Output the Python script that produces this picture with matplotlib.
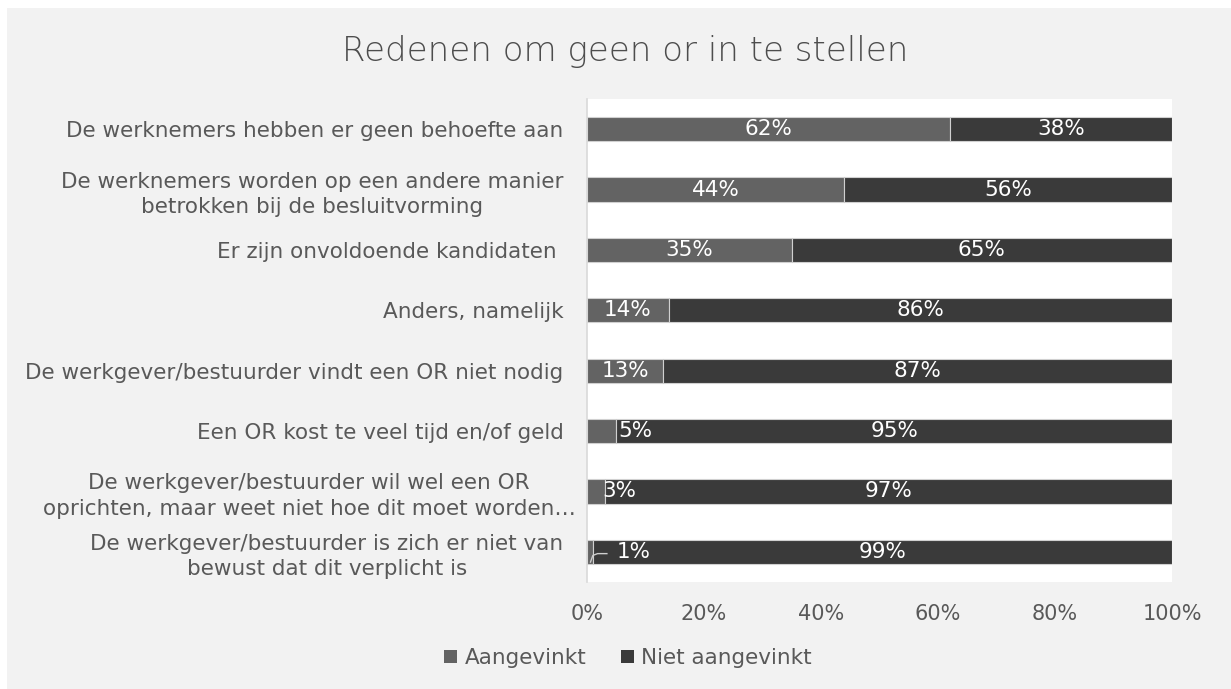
import numpy as np
import matplotlib
matplotlib.use("Agg")
import matplotlib.pyplot as plt
import matplotlib.transforms as mtransforms
from matplotlib.patches import Rectangle, Patch

# data, top to bottom as in the chart
categories = [
    "De werknemers hebben er geen behoefte aan",
    "De werknemers worden op een andere manier\nbetrokken bij de besluitvorming",
    "Er zijn onvoldoende kandidaten ",
    "Anders, namelijk",
    "De werkgever/bestuurder vindt een OR niet nodig",
    "Een OR kost te veel tijd en/of geld",
    "De werkgever/bestuurder wil wel een OR\noprichten, maar weet niet hoe dit moet worden\u2026",
    "De werkgever/bestuurder is zich er niet van\nbewust dat dit verplicht is",
]
aangevinkt = [62, 44, 35, 14, 13, 5, 3, 1]
niet_aangevinkt = [38, 56, 65, 86, 87, 95, 97, 99]
series_names = ["Aangevinkt", "Niet aangevinkt"]
xticks = [0, 20, 40, 60, 80, 100]

c_aan = "#636363"
c_niet = "#3a3a3a"
txt = "#595959"
bg = "#f2f2f2"

plt.rcParams["font.family"] = ["DejaVu Sans"]

fig = plt.figure(figsize=(12.31, 6.89), dpi=100, facecolor="white")
# grey chart area with a thin white margin on the left/top
fig.patches.append(Rectangle((7 / 1231, 0), 1, 1 - 8 / 689, transform=fig.transFigure,
                             facecolor=bg, edgecolor="none", zorder=-10))

ax = fig.add_axes([587 / 1231, 1 - 582 / 689, (1172 - 587) / 1231, (582 - 99) / 689])
ax.set_facecolor("white")

y = np.arange(len(categories))
h = 0.4
ax.barh(y, aangevinkt, height=h, color=c_aan, edgecolor="#d0d0d0", linewidth=0.8)
ax.barh(y, niet_aangevinkt, left=aangevinkt, height=h, color=c_niet,
        edgecolor="#d0d0d0", linewidth=0.8)

ax.set_ylim(len(categories) - 0.5, -0.5)
ax.set_xlim(0, 100)

# data labels; tiny segments get their label nudged to the right like in Excel
nudge = {5: 8.2, 3: 5.5, 1: 7.9}
for i, (a, n) in enumerate(zip(aangevinkt, niet_aangevinkt)):
    xa = nudge.get(a, a / 2)
    ax.text(xa, i, f"{a}%", color="white", ha="center", va="center", fontsize=15.5)
    ax.text(a + n / 2, i, f"{n}%", color="white", ha="center", va="center", fontsize=15.5)
    if a == 1:
        # leader line from the sliver to its label
        ax.plot([0.6, 1.0, 1.8, 3.4], [i + 0.17, i + 0.06, i + 0.03, i + 0.03],
                color="#cfcfcf", lw=1.0)

ax.set_yticks(y)
ax.set_yticklabels(categories, fontsize=15.5, color=txt, multialignment="center",
                   linespacing=1.35)
ax.tick_params(axis="y", length=0, pad=17)
# the long truncated label sticks out a bit further to the right
lbl = ax.get_yticklabels()[6]
lbl.set_transform(lbl.get_transform() + mtransforms.ScaledTranslation(0.12, 0, fig.dpi_scale_trans))

ax.set_xticks(xticks)
ax.set_xticklabels([f"{t}%" for t in xticks], fontsize=15, color=txt)
ax.tick_params(axis="x", length=0, pad=16)

for s in ["top", "right", "bottom"]:
    ax.spines[s].set_visible(False)
ax.spines["left"].set_color("#d9d9d9")
ax.spines["left"].set_linewidth(1.2)

fig.text(625 / 1231, 1 - 52 / 689, "Redenen om geen or in te stellen", ha="center",
         va="center", fontsize=24.5, color="#4d4d4d", fontweight="light")

handles = [Patch(facecolor=c_aan), Patch(facecolor=c_niet)]
fig.legend(handles, series_names, loc="center", bbox_to_anchor=(628 / 1231, 1 - 658 / 689),
           ncol=2, frameon=False, fontsize=15.5, labelcolor=txt, handlelength=0.6,
           handleheight=0.6, handletextpad=0.35, columnspacing=1.6)

fig.savefig("out.png", dpi=100, facecolor=fig.get_facecolor())
